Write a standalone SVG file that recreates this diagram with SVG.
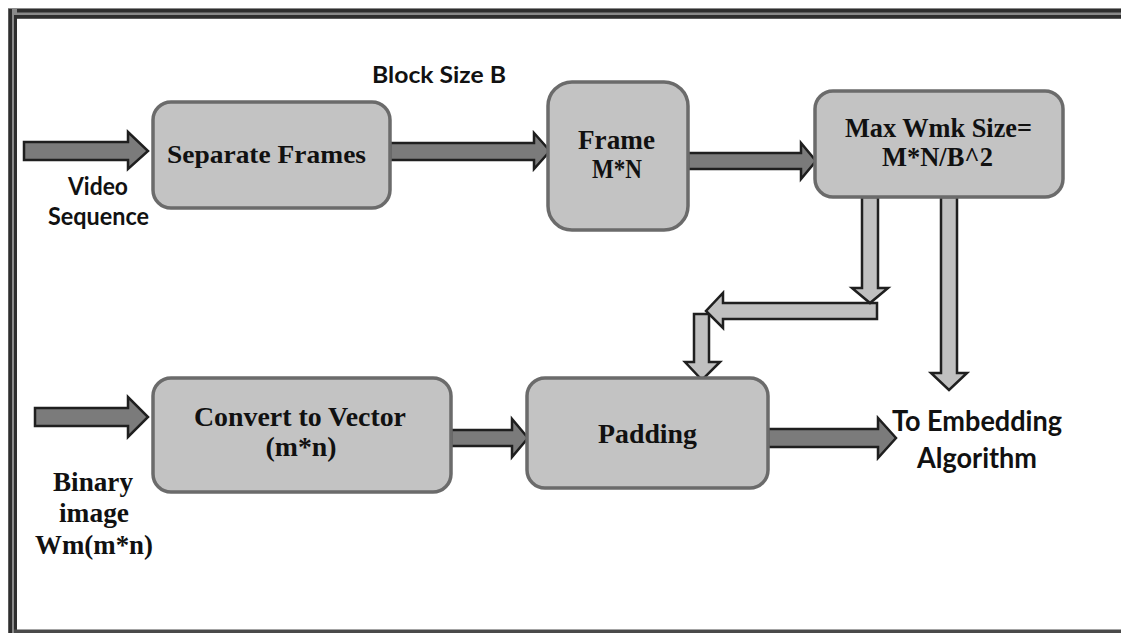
<svg xmlns="http://www.w3.org/2000/svg" width="1121" height="633" viewBox="0 0 1121 633">
  <style>
    .box { fill: #c3c3c3; stroke: #6b6b6b; stroke-width: 3.5; }
    .flow { fill: #7b7b7b; stroke: #1f1f1f; stroke-width: 2.5; stroke-linejoin: miter; }
    .feed { fill: #c0c0c0; stroke: #1f1f1f; stroke-width: 2.5; stroke-linejoin: miter; }
    .serif { font-family: "Liberation Serif", "DejaVu Serif", serif; font-weight: bold; fill: #111; text-anchor: middle; }
    .sans { font-family: Lato, "Open Sans", "Liberation Sans", sans-serif; font-weight: bold; fill: #111; text-anchor: middle; }
  </style>

  <rect x="0" y="0" width="1121" height="633" fill="#ffffff"/>

  <!-- window frame -->
  <g id="frame">
    <rect x="8" y="8" width="1113" height="11" fill="#8a8a8a"/>
    <rect x="8" y="9" width="1113" height="3.5" fill="#2e2e2e"/>
    <rect x="8" y="15" width="1113" height="3.5" fill="#2e2e2e"/>
    <rect x="8" y="8" width="9" height="625" fill="#8a8a8a"/>
    <rect x="8.5" y="9" width="3.5" height="624" fill="#2e2e2e"/>
    <rect x="14" y="15" width="3" height="618" fill="#2e2e2e"/>
    <rect x="14" y="629.5" width="1107" height="3.5" fill="#4a4a4a"/>
  </g>

  <!-- connectors -->
  <g id="connectors">
    <!-- video sequence in -->
    <polygon class="flow" points="24,142 128,142 128,132 148,151 128,169 128,160 24,160"/>
    <!-- separate frames -> frame -->
    <polygon class="flow" points="390,143 534,143 534,133 550,151 534,169 534,160 390,160"/>
    <!-- frame -> max wmk size -->
    <polygon class="flow" points="688,153 801,153 801,143 816,161 801,179 801,169 688,169"/>
    <!-- binary image in -->
    <polygon class="flow" points="35,408 128,408 128,397 148,417 128,437 128,426 35,426"/>
    <!-- convert -> padding -->
    <polygon class="flow" points="451,430 512,430 512,419 528,438 512,457 512,446 451,446"/>
    <!-- padding -> embedding -->
    <polygon class="flow" points="768,429 878,429 878,418 896,438 878,458 878,447 768,447"/>

    <!-- bent feed into padding -->
    <polygon class="feed" points="694,314 709,314 709,362 720,362 702,380 685,362 694,362"/>
    <polygon class="feed" points="877,303 877,319 723,319 723,328 706,311 723,293 723,303"/>
    <polygon class="feed" points="862,197 878,197 878,288 888,288 870,303 852,288 862,288"/>
    <!-- straight feed to embedding -->
    <polygon class="feed" points="941,197 957,197 957,373 967,373 949,390 931,373 941,373"/>
  </g>

  <g id="node-separate-frames">
    <rect class="box" x="153" y="102" width="237" height="106" rx="18"/>
    <text class="serif" x="266.5" y="163" font-size="26" textLength="199" lengthAdjust="spacingAndGlyphs">Separate Frames</text>
  </g>

  <g id="node-frame">
    <rect class="box" x="548" y="82" width="140" height="148" rx="24"/>
    <text class="serif" x="616.5" y="149" font-size="28" textLength="77" lengthAdjust="spacingAndGlyphs">Frame</text>
    <text class="serif" x="617" y="178" font-size="28" textLength="50" lengthAdjust="spacingAndGlyphs">M*N</text>
  </g>

  <g id="node-max-wmk">
    <rect class="box" x="815" y="91" width="248" height="106" rx="18"/>
    <text class="serif" x="938.5" y="137" font-size="27" textLength="187" lengthAdjust="spacingAndGlyphs">Max Wmk Size=</text>
    <text class="serif" x="937.5" y="166" font-size="27" textLength="111" lengthAdjust="spacingAndGlyphs">M*N/B^2</text>
  </g>

  <g id="node-convert">
    <rect class="box" x="153" y="378" width="298" height="114" rx="18"/>
    <text class="serif" x="300" y="426" font-size="27" textLength="212" lengthAdjust="spacingAndGlyphs">Convert to Vector</text>
    <text class="serif" x="301" y="456" font-size="27" textLength="71" lengthAdjust="spacingAndGlyphs">(m*n)</text>
  </g>

  <g id="node-padding">
    <rect class="box" x="527" y="378" width="241" height="110" rx="18"/>
    <text class="serif" x="647.5" y="443" font-size="27" textLength="99" lengthAdjust="spacingAndGlyphs">Padding</text>
  </g>

  <g id="label-block-size">
    <text class="sans" x="439" y="83" font-size="22" textLength="134" lengthAdjust="spacingAndGlyphs">Block Size B</text>
  </g>

  <g id="label-video">
    <text class="sans" x="98" y="195" font-size="24" textLength="60" lengthAdjust="spacingAndGlyphs">Video</text>
    <text class="sans" x="98.5" y="225" font-size="24" textLength="101" lengthAdjust="spacingAndGlyphs">Sequence</text>
  </g>

  <g id="label-binary">
    <text class="serif" x="93" y="491" font-size="28" textLength="80" lengthAdjust="spacingAndGlyphs">Binary</text>
    <text class="serif" x="94" y="522" font-size="28" textLength="70" lengthAdjust="spacingAndGlyphs">image</text>
    <text class="serif" x="94" y="554" font-size="28" textLength="118" lengthAdjust="spacingAndGlyphs">Wm(m*n)</text>
  </g>

  <g id="label-embedding">
    <text class="sans" x="977" y="431" font-size="28" textLength="170" lengthAdjust="spacingAndGlyphs">To Embedding</text>
    <text class="sans" x="977" y="468" font-size="28" textLength="120" lengthAdjust="spacingAndGlyphs">Algorithm</text>
  </g>
</svg>
